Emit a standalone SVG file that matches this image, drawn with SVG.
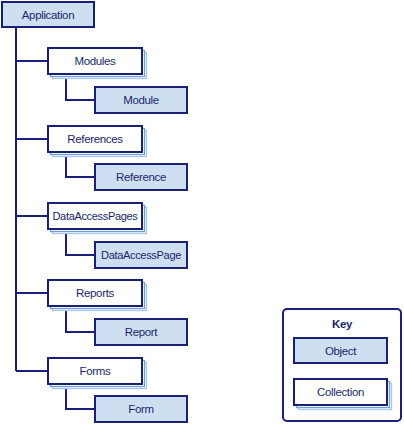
<svg xmlns="http://www.w3.org/2000/svg" width="404" height="424" viewBox="0 0 404 424">
<defs>
<style>
.obj{fill:#cfdff2;stroke:#1b1f78;stroke-width:2}
.col{fill:#ffffff;stroke:#1b1f78;stroke-width:2}
.sh1{fill:#ffffff;stroke:#6f9fd6;stroke-width:1.3}
.sh2{fill:#ffffff;stroke:#a9c6e8;stroke-width:1.3}
.lnk{fill:none;stroke:#1b1f78;stroke-width:2}
text{font-family:"Liberation Sans",Arial,sans-serif;font-size:11.5px;letter-spacing:-0.35px;fill:#1b1f6b;text-anchor:middle}
.key{fill:#ffffff;stroke:#1b1f78;stroke-width:2}
</style>
<g id="colbox">
<rect class="sh2" x="4.5" y="4.5" width="94" height="26"/>
<rect class="sh1" x="2.5" y="2.5" width="94" height="26"/>
<rect class="col" x="0" y="0" width="94" height="26"/>
</g>
<g id="colboxk">
<rect class="sh2" x="4.5" y="4.5" width="93" height="26"/>
<rect class="sh1" x="2.5" y="2.5" width="93" height="26"/>
<rect class="col" x="0" y="0" width="93" height="26"/>
</g>
</defs>
<rect width="404" height="424" fill="#ffffff"/>
<g id="connectors">
<path class="lnk" d="M16 27 V371 M16 61 H48 M16 139 H48 M16 216 H48 M16 293 H48 M16 371 H48"/>
<path class="lnk" d="M66 74 V100 H95 M66 152 V177 H95 M66 229 V255 H95 M66 306 V332 H95 M66 384 V409 H95"/>
</g>
<g id="application">
<rect class="obj" x="2" y="2" width="92" height="25"/>
<text x="48" y="18.5">Application</text>
</g>
<g id="modules">
<use href="#colbox" x="48" y="48"/>
<text x="95" y="65">Modules</text>
</g>
<g id="module">
<rect class="obj" x="95" y="87" width="92" height="26"/>
<text x="141" y="104">Module</text>
</g>
<g id="references">
<use href="#colbox" x="48" y="126"/>
<text x="95" y="143">References</text>
</g>
<g id="reference">
<rect class="obj" x="95" y="164" width="92" height="26"/>
<text x="141" y="181">Reference</text>
</g>
<g id="dataaccesspages">
<use href="#colbox" x="48" y="203"/>
<text x="95" y="220" textLength="85" lengthAdjust="spacingAndGlyphs">DataAccessPages</text>
</g>
<g id="dataaccesspage">
<rect class="obj" x="95" y="242" width="92" height="26"/>
<text x="141" y="259" textLength="80" lengthAdjust="spacingAndGlyphs">DataAccessPage</text>
</g>
<g id="reports">
<use href="#colbox" x="48" y="280"/>
<text x="95" y="297">Reports</text>
</g>
<g id="report">
<rect class="obj" x="95" y="319" width="92" height="26"/>
<text x="141" y="336">Report</text>
</g>
<g id="forms">
<use href="#colbox" x="48" y="358"/>
<text x="95" y="375">Forms</text>
</g>
<g id="form">
<rect class="obj" x="95" y="396" width="92" height="26"/>
<text x="141" y="413">Form</text>
</g>
<g id="key">
<rect class="key" x="283" y="309" width="118" height="112" rx="4"/>
<text x="342" y="328" style="font-weight:bold">Key</text>
<rect class="obj" x="294" y="338" width="93" height="25"/>
<text x="340.5" y="354.5">Object</text>
<use href="#colboxk" x="294" y="379"/>
<text x="340.5" y="396">Collection</text>
</g>
</svg>
